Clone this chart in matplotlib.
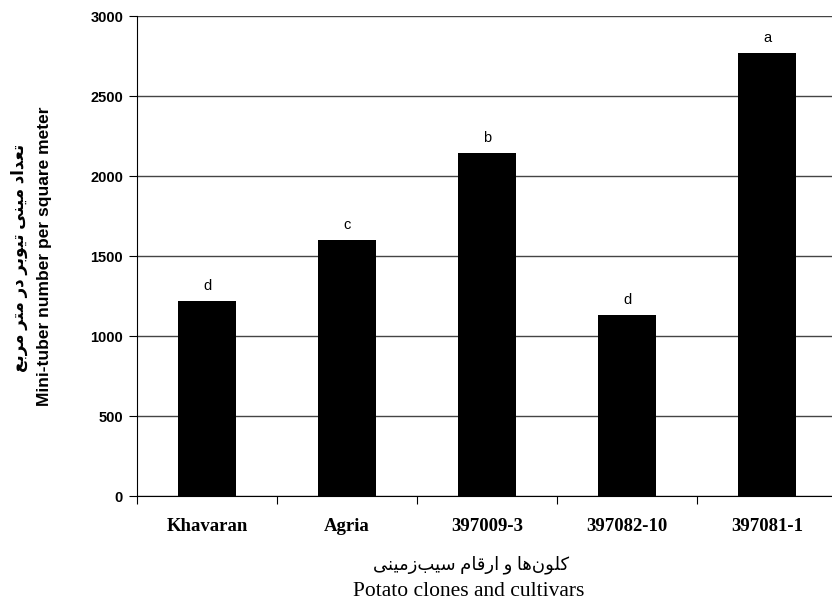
import matplotlib
matplotlib.use("Agg")
import matplotlib.pyplot as plt
import numpy as np

clones = ["Khavaran", "Agria", "397009-3", "397082-10", "397081-1"]
tuber_number = [1219, 1600, 2142, 1131, 2767]
groups = ["d", "c", "b", "d", "a"]

ylabel_fa = "تعداد مینی تیوبر در متر مربع"
ylabel_en = "Mini-tuber number per square meter"
xlabel_fa = "کلون‌ها و ارقام سیب‌زمینی"
xlabel_en = "Potato clones and cultivars"

# contextual forms: isolated, final, initial, medial (None -> joins only to the right)
FORMS = {
    "ا": (0xFE8D, 0xFE8E, None, None),
    "ب": (0xFE8F, 0xFE90, 0xFE91, 0xFE92),
    "ت": (0xFE95, 0xFE96, 0xFE97, 0xFE98),
    "د": (0xFEA9, 0xFEAA, None, None),
    "ر": (0xFEAD, 0xFEAE, None, None),
    "ز": (0xFEAF, 0xFEB0, None, None),
    "س": (0xFEB1, 0xFEB2, 0xFEB3, 0xFEB4),
    "ع": (0xFEC9, 0xFECA, 0xFECB, 0xFECC),
    "ق": (0xFED5, 0xFED6, 0xFED7, 0xFED8),
    "ل": (0xFEDD, 0xFEDE, 0xFEDF, 0xFEE0),
    "م": (0xFEE1, 0xFEE2, 0xFEE3, 0xFEE4),
    "ن": (0xFEE5, 0xFEE6, 0xFEE7, 0xFEE8),
    "ه": (0xFEE9, 0xFEEA, 0xFEEB, 0xFEEC),
    "و": (0xFEED, 0xFEEE, None, None),
    "ی": (0xFBFC, 0xFBFD, 0xFBFE, 0xFBFF),
    "ک": (0xFB8E, 0xFB8F, 0xFB90, 0xFB91),
}


def shape_fa(text):
    out = []
    for i, ch in enumerate(text):
        if ch not in FORMS:
            if ch != "\u200c":
                out.append(ch)
            continue
        f = FORMS[ch]
        prv = text[i - 1] if i > 0 else ""
        nxt = text[i + 1] if i + 1 < len(text) else ""
        join_prev = prv in FORMS and FORMS[prv][2] is not None
        join_next = f[2] is not None and nxt in FORMS
        if join_prev and join_next:
            code = f[3]
        elif join_prev:
            code = f[1]
        elif join_next:
            code = f[2]
        else:
            code = f[0]
        out.append(chr(code))
    return "".join(out[::-1])


sans = ["Liberation Sans", "DejaVu Sans"]
serif = ["Liberation Serif", "DejaVu Sans"]

fig = plt.figure(figsize=(8.32, 6.09), dpi=100)
ax = fig.add_axes([137 / 832, 113 / 609, 700 / 832, 480 / 609])

x = np.arange(len(clones))
bars = ax.bar(x, tuber_number, width=0.42, color="black", zorder=3)
for b, g in zip(bars, groups):
    ax.annotate(g, (b.get_x() + b.get_width() / 2, b.get_height()),
                xytext=(0, 6), textcoords="offset points",
                ha="center", va="bottom", fontsize=10.5, family=sans)

ax.set_xlim(-0.5, len(clones) - 0.5)
ax.set_ylim(0, 3000)
ax.set_yticks(range(0, 3001, 500))
ax.yaxis.grid(True, color="#444444", linewidth=1, zorder=0)
ax.set_axisbelow(True)

ax.set_xticks(np.arange(-0.5, len(clones), 1), minor=False)
ax.set_xticklabels([])
ax.set_xticks(x, minor=True)
ax.set_xticklabels(clones, minor=True, family=serif, fontweight="bold", fontsize=13.5)
ax.tick_params(axis="x", which="minor", length=0, pad=16)
ax.tick_params(axis="x", which="major", length=6, direction="out", color="black")
ax.tick_params(axis="y", length=6, direction="out", pad=4)
for lab in ax.get_yticklabels():
    lab.set_family(sans)
    lab.set_fontweight("bold")
    lab.set_fontsize(10.5)

for s in ["top", "right"]:
    ax.spines[s].set_visible(False)
ax.spines["left"].set_color("black")
ax.spines["bottom"].set_color("black")

fig.text(19 / 832, 1 - 258 / 609, shape_fa(ylabel_fa), rotation=90, ha="center", va="center",
         fontsize=12, fontweight="bold", family=sans)
fig.text(45 / 832, 1 - 256 / 609, ylabel_en, rotation=90, ha="center", va="center",
         fontsize=12.5, fontweight="bold", family=sans)
fig.text(471 / 832, 1 - 565 / 609, shape_fa(xlabel_fa), ha="center", va="center",
         fontsize=13, family=serif)
fig.text(469 / 832, 1 - 592 / 609, xlabel_en, ha="center", va="center",
         fontsize=15.5, family=serif)

fig.savefig("out.png", dpi=100)
